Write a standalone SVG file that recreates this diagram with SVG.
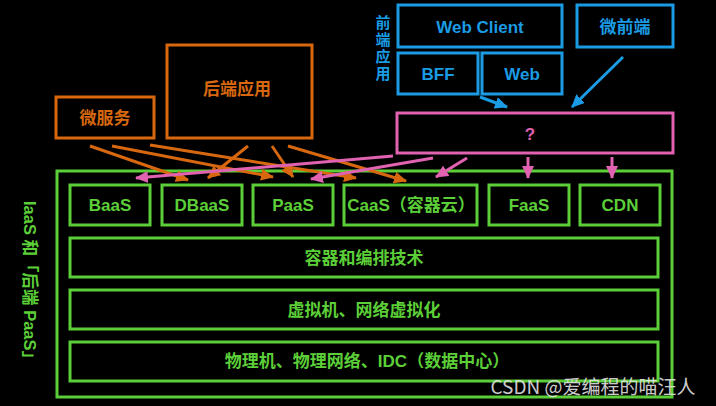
<svg xmlns="http://www.w3.org/2000/svg" width="716" height="406" viewBox="0 0 716 406">
<defs>
<style>
text{font-family:"Liberation Sans","Noto Sans CJK SC",sans-serif;font-weight:bold;font-size:17px;text-anchor:middle;dominant-baseline:central}
.g rect{fill:none;stroke:#5ccf38;stroke-width:3}
.g text{fill:#5ccf38}
.o rect{fill:none;stroke:#d8680f;stroke-width:3}
.o text{fill:#d8680f}
.b rect{fill:none;stroke:#1a9be3;stroke-width:3}
.b text{fill:#1a9be3}
.p rect{fill:none;stroke:#e062b0;stroke-width:3}
.p text{fill:#e062b0}
.ao{stroke:#d8680f;stroke-width:3;fill:none;marker-end:url(#mo)}
.ap{stroke:#e062b0;stroke-width:3;fill:none;marker-end:url(#mp)}
.ab{stroke:#1a9be3;stroke-width:3;fill:none;marker-end:url(#mb)}
</style>
<marker id="mo" markerUnits="userSpaceOnUse" markerWidth="14" markerHeight="12" refX="12" refY="6" orient="auto"><path d="M0,0 L13,6 L0,12 z" fill="#d8680f"/></marker>
<marker id="mp" markerUnits="userSpaceOnUse" markerWidth="14" markerHeight="12" refX="12" refY="6" orient="auto"><path d="M0,0 L13,6 L0,12 z" fill="#e062b0"/></marker>
<marker id="mb" markerUnits="userSpaceOnUse" markerWidth="14" markerHeight="12" refX="12" refY="6" orient="auto"><path d="M0,0 L13,6 L0,12 z" fill="#1a9be3"/></marker>
</defs>
<rect x="0" y="0" width="716" height="406" fill="#000"/>

<g id="infra" class="g">
<rect x="57" y="171" width="615" height="226"/>
<text transform="translate(30,284) rotate(90)" style="font-size:16.5px">IaaS 和「后端 PaaS」</text>
</g>
<g id="baas" class="g"><rect x="70" y="185" width="80" height="40"/><text x="110" y="205">BaaS</text></g>
<g id="dbaas" class="g"><rect x="162" y="185" width="80" height="40"/><text x="202" y="205">DBaaS</text></g>
<g id="paas" class="g"><rect x="253" y="185" width="80" height="40"/><text x="293" y="205">PaaS</text></g>
<g id="caas" class="g"><rect x="344" y="185" width="133" height="40"/><text x="411" y="205">CaaS（容器云）</text></g>
<g id="faas" class="g"><rect x="489" y="185" width="80" height="40"/><text x="529" y="205">FaaS</text></g>
<g id="cdn" class="g"><rect x="580" y="185" width="80" height="40"/><text x="620" y="205">CDN</text></g>
<g id="container" class="g"><rect x="70" y="238" width="588" height="39"/><text x="364" y="258">容器和编排技术</text></g>
<g id="vm" class="g"><rect x="70" y="290" width="588" height="39"/><text x="364" y="310">虚拟机、网络虚拟化</text></g>
<g id="physical" class="g"><rect x="70" y="342" width="588" height="39"/><text x="367" y="361">物理机、物理网络、IDC（数据中心）</text></g>

<g id="microservice" class="o"><rect x="56" y="97" width="98" height="41"/><text x="105" y="118">微服务</text></g>
<g id="backend" class="o"><rect x="167" y="45" width="145" height="93"/><text x="237" y="89">后端应用</text></g>

<g id="frontend-label" class="b" style="font-size:15px">
<text x="383" y="22" style="font-size:15px">前</text><text x="383" y="39" style="font-size:15px">端</text><text x="383" y="56" style="font-size:15px">应</text><text x="383" y="73" style="font-size:15px">用</text>
</g>
<g id="webclient" class="b"><rect x="398" y="5" width="164" height="42"/><text x="480" y="27">Web Client</text></g>
<g id="microfrontend" class="b"><rect x="577" y="5" width="96" height="42"/><text x="625" y="27">微前端</text></g>
<g id="bff" class="b"><rect x="398" y="53" width="80" height="41"/><text x="438" y="74">BFF</text></g>
<g id="web" class="b"><rect x="482" y="53" width="80" height="41"/><text x="522" y="74">Web</text></g>
<g id="unknown" class="p"><rect x="397" y="113" width="276" height="40"/><text x="530" y="134">?</text></g>

<g id="connectors">
<line class="ao" x1="90" y1="146" x2="188" y2="180"/>
<line class="ao" x1="112" y1="146" x2="273" y2="177"/>
<line class="ao" x1="150" y1="145" x2="356" y2="178"/>
<line class="ao" x1="248" y1="146" x2="208" y2="178"/>
<line class="ao" x1="272" y1="146" x2="293" y2="177"/>
<line class="ao" x1="288" y1="146" x2="406" y2="181"/>
<line class="ap" x1="393" y1="156" x2="136" y2="178"/>
<line class="ap" x1="433" y1="158" x2="311" y2="179"/>
<line class="ap" x1="467" y1="158" x2="436" y2="177"/>
<line class="ap" x1="528" y1="157" x2="528" y2="178"/>
<line class="ap" x1="612" y1="157" x2="612" y2="178"/>
<line class="ab" x1="480" y1="97" x2="507" y2="107"/>
<line class="ab" x1="623" y1="57" x2="572" y2="107"/>
</g>

<text x="593" y="385" style="font-weight:normal;font-size:19px;fill:#e6e6e6;fill-opacity:0.9;font-family:'Noto Sans CJK SC',sans-serif">CSDN @爱编程的喵汪人</text>
</svg>
